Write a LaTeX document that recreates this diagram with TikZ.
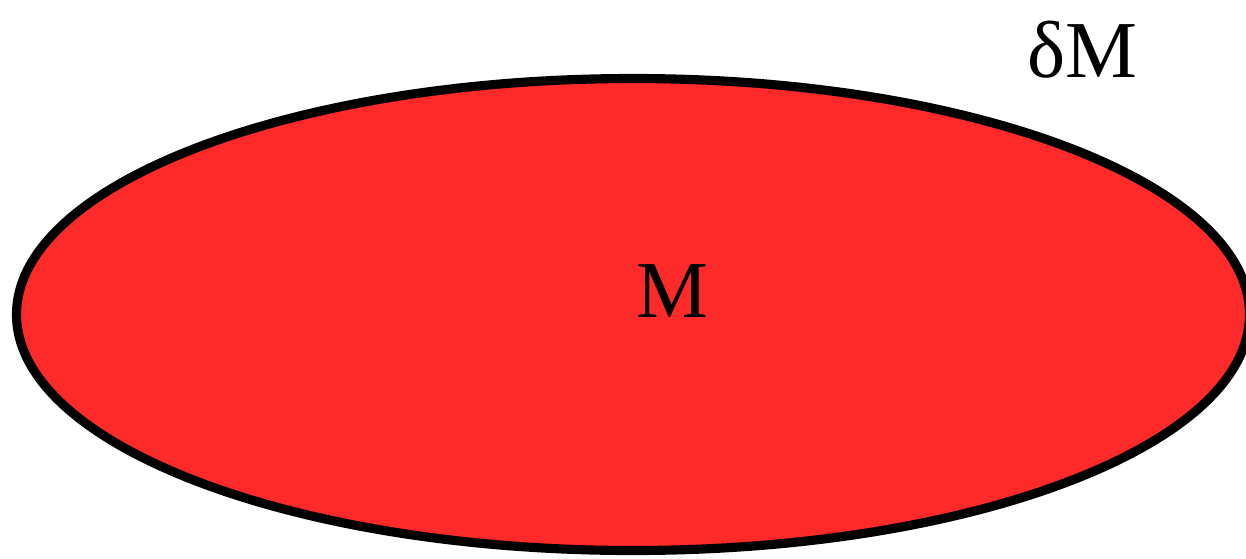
\documentclass[tikz,border=0pt]{standalone}
\usepackage{fontspec}
\setmainfont{Liberation Serif}
\definecolor{mred}{RGB}{254,41,41}
\begin{document}
\begin{tikzpicture}[x=0.02cm,y=-0.02cm,every node/.style={font=\fontsize{46}{50}\selectfont,inner sep=0pt}]
\useasboundingbox (0,0) rectangle (1246,558);
\clip (0,0) rectangle (1246,558);
\draw[fill=mred,line width=5.2pt] (633,314.5) ellipse [x radius=616.5,y radius=236];
\node[anchor=base] (M) at (672,317) {M};
\node[anchor=base] (dM) at (1082,77) {δM};
\end{tikzpicture}
\end{document}
